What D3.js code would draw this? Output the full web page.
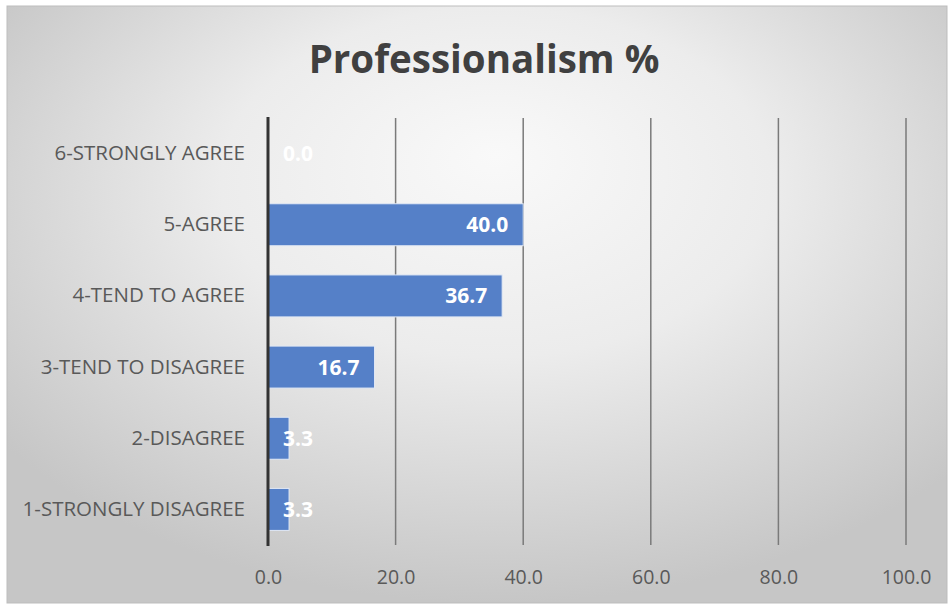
<!DOCTYPE html>
<html><head><meta charset="utf-8">
<script src="https://cdn.jsdelivr.net/npm/d3@7"></script>
<style>html,body{margin:0;padding:0;background:#fff;}svg{display:block;}</style>
</head><body>
<svg id="chart" width="951" height="606"></svg>
<script>
const title = "Professionalism %";
const categories = ["1-STRONGLY DISAGREE","2-DISAGREE","3-TEND TO DISAGREE","4-TEND TO AGREE","5-AGREE","6-STRONGLY AGREE"];
const values = [3.3, 3.3, 16.7, 36.7, 40.0, 0.0];
const xTicks = [0, 20, 40, 60, 80, 100];

const W = 951, H = 606;
const svg = d3.select("#chart");
const defs = svg.append("defs");
const grad = defs.append("radialGradient").attr("id","bg")
  .attr("cx","52%").attr("cy","35%").attr("r","65%")
  .attr("fx","52%").attr("fy","25%");
grad.append("stop").attr("offset","0%").attr("stop-color","#f9f9f9");
grad.append("stop").attr("offset","45%").attr("stop-color","#ececec");
grad.append("stop").attr("offset","100%").attr("stop-color","#c6c6c6");

svg.append("rect").attr("x",7).attr("y",6).attr("width",940).attr("height",597)
  .attr("fill","url(#bg)").attr("stroke","#bdbdbd").attr("stroke-width",1);

const font = "'Open Sans', 'Noto Sans', sans-serif";

svg.append("text").attr("x",484).attr("y",73).attr("text-anchor","middle")
  .attr("font-family",font).attr("font-weight","bold").attr("font-size",38.5)
  .attr("fill","#404040").text(title);

const x = d3.scaleLinear().domain([0,100]).range([268, 906]);
const y = d3.scaleBand().domain(categories.slice().reverse()).range([118, 545])
  .paddingInner(0.41).paddingOuter(0.205);

// gridlines
svg.append("g").selectAll("line").data(xTicks.filter(d=>d>0)).join("line")
  .attr("x1",d=>x(d)).attr("x2",d=>x(d)).attr("y1",118).attr("y2",545)
  .attr("stroke","#7a7a7a").attr("stroke-width",1.5);

// bars
const data = categories.map((c,i)=>({c, v: values[i]}));
svg.append("g").selectAll("rect").data(data.filter(d=>d.v>0)).join("rect")
  .attr("x",x(0)).attr("y",d=>y(d.c))
  .attr("width",d=>x(d.v)-x(0)).attr("height",y.bandwidth())
  .attr("fill","#5580c8").attr("stroke","#e2e9f5").attr("stroke-width",1);

// zero axis
svg.append("line").attr("x1",x(0)).attr("x2",x(0)).attr("y1",117).attr("y2",546)
  .attr("stroke","#333").attr("stroke-width",3);

// x axis labels
const xAxis = d3.axisBottom(x).tickValues(xTicks).tickFormat(d3.format(".1f")).tickSize(0).tickPadding(0);
const gx = svg.append("g").attr("transform","translate(0,570)").call(xAxis);
gx.select(".domain").remove();
gx.selectAll("text").attr("font-family",font).attr("font-size",19.5).attr("fill","#595959").attr("dy","0.71em");

// y axis labels
const yAxis = d3.axisLeft(y).tickSize(0).tickPadding(23);
const gy = svg.append("g").attr("transform",`translate(${x(0)},0)`).call(yAxis);
gy.select(".domain").remove();
gy.selectAll("text").attr("font-family",font).attr("font-size",20.5).attr("fill","#595959");

// value labels
const lab = svg.append("g").selectAll("text").data(data).join("text")
  .attr("y",d=>y(d.c)+y.bandwidth()/2).attr("dy","0.36em")
  .attr("text-anchor","end")
  .attr("font-family",font).attr("font-weight","bold").attr("font-size",21)
  .attr("fill","#ffffff").text(d=>d3.format(".1f")(d.v));
lab.each(function(d){
  const w = this.getComputedTextLength();
  d3.select(this).attr("x", Math.max(x(d.v)-15, x(0)+15+w));
});
</script>
</body></html>
